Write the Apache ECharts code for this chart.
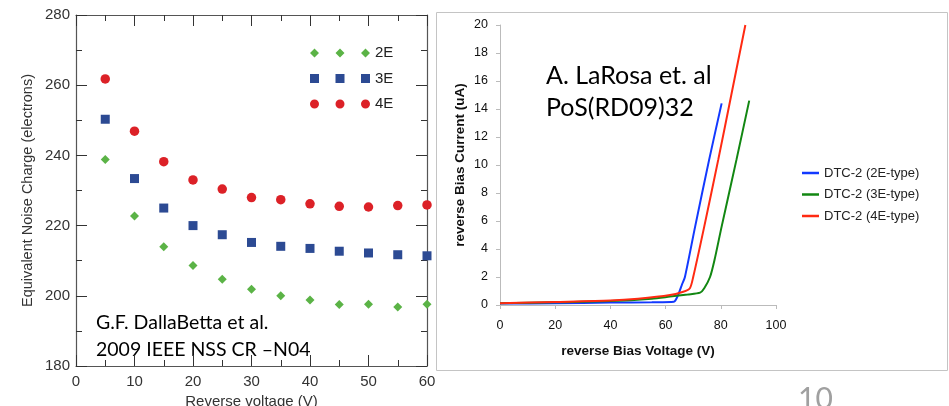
<!DOCTYPE html>
<html>
<head>
<meta charset="utf-8">
<script src="https://cdn.jsdelivr.net/npm/echarts@6/dist/echarts.min.js"></script>
<style>
    html, body { margin: 0; padding: 0; background: #fff; }
    #chart { width: 949px; height: 406px; }
</style>
</head>
<body>
<div id="chart"></div>
<script>
// left panel: ENC vs reverse voltage
const voltages = [5, 10, 15, 20, 25, 30, 35, 40, 45, 50, 55, 60];
const enc2E = [238.8, 222.7, 214.0, 208.6, 204.7, 201.9, 200.0, 198.8, 197.5, 197.6, 196.8, 197.6];
const enc3E = [250.3, 233.4, 225.0, 220.0, 217.4, 215.2, 214.1, 213.5, 212.7, 212.2, 211.7, 211.4];
const enc4E = [261.8, 246.9, 238.2, 233.0, 230.4, 228.0, 227.4, 226.2, 225.5, 225.3, 225.7, 225.9];

// right panel: IV curves [voltage, current uA]
const iv2E = [[0, 0.1], [20, 0.12], [40, 0.17], [55, 0.2], [63, 0.24], [64.5, 0.7], [66, 1.5], [67, 2.0],
    [70.7, 5.6], [75.8, 10.4], [80.3, 14.4]];
const iv3E = [[0, 0.12], [20, 0.19], [40, 0.28], [55, 0.45], [61.6, 0.6], [68, 0.75], [72.5, 0.88], [74, 1.2],
    [76.1, 2.0], [77.7, 3.2], [80.3, 5.6], [85.7, 10.4], [90.3, 14.6]];
const iv4E = [[0, 0.13], [20, 0.22], [40, 0.32], [50, 0.45], [61.6, 0.71], [66.4, 0.95], [68.8, 1.2], [70, 2.0],
    [74, 5.6], [79.1, 10.4], [83.8, 15], [88.9, 20]];

const leftNames = ['2E', '3E', '4E'];
const rightNames = ['DTC-2 (2E-type)', 'DTC-2 (3E-type)', 'DTC-2 (4E-type)'];

function pairs(xs, ys) {
    return xs.map((x, i) => [x, ys[i]]);
}

// three markers per legend row, like the original plot
const iconDiamonds = 'path://M4.5 0L9 4.5L4.5 9L0 4.5Z M30 0L34.5 4.5L30 9L25.5 4.5Z M55.5 0L60 4.5L55.5 9L51 4.5Z';
const iconSquares = 'path://M0 0H9V9H0Z M25.5 0H34.5V9H25.5Z M51 0H60V9H51Z';
const iconCircles = 'path://M0 4.5A4.5 4.5 0 1 1 9 4.5A4.5 4.5 0 1 1 0 4.5Z M25.5 4.5A4.5 4.5 0 1 1 34.5 4.5A4.5 4.5 0 1 1 25.5 4.5Z M51 4.5A4.5 4.5 0 1 1 60 4.5A4.5 4.5 0 1 1 51 4.5Z';

const frame = '#555';
const leftFont = 'Liberation Sans, Arial, sans-serif';
const noteFont = 'Lato, "Open Sans", sans-serif';

function frameAxis(extra) {
    return Object.assign({
        type: 'value',
        axisLine: {show: true, onZero: false, lineStyle: {color: frame, width: 1.2}},
        axisTick: {show: true, inside: true, length: 11, lineStyle: {color: '#333'}},
        minorTick: {show: true, splitNumber: 2, length: 6, lineStyle: {color: '#333'}},
        splitLine: {show: false},
        axisLabel: {show: false}
    }, extra);
}

const chart = echarts.init(document.getElementById('chart'));

chart.setOption({
    animation: false,
    grid: [
        {left: 76, top: 15, width: 351, height: 351, outerBoundsMode: 'none'},
        {left: 500, top: 25, width: 276, height: 280, outerBoundsMode: 'none'}
    ],
    xAxis: [
        frameAxis({
            gridIndex: 0, position: 'bottom', min: 0, max: 60, interval: 10,
            axisLabel: {show: true, margin: 8, color: '#333', fontSize: 15, fontFamily: leftFont},
            name: 'Reverse voltage (V)', nameLocation: 'middle', nameGap: 27,
            nameTextStyle: {color: '#333', fontSize: 15, fontFamily: leftFont}
        }),
        frameAxis({gridIndex: 0, position: 'top', min: 0, max: 60, interval: 10}),
        {
            type: 'value', gridIndex: 1, min: 0, max: 100, interval: 20,
            axisLine: {show: true, onZero: false, lineStyle: {color: '#bbb'}},
            axisTick: {show: true, length: 4, lineStyle: {color: '#bbb'}},
            splitLine: {show: false},
            axisLabel: {margin: 14, color: '#111', fontSize: 12.5, fontFamily: leftFont},
            name: 'reverse Bias Voltage (V)', nameLocation: 'middle', nameGap: 39,
            nameTextStyle: {color: '#111', fontSize: 13.5, fontWeight: 'bold', fontFamily: leftFont}
        }
    ],
    yAxis: [
        frameAxis({
            gridIndex: 0, position: 'left', min: 180, max: 280, interval: 20,
            axisLabel: {show: true, margin: 6, color: '#333', fontSize: 15, fontFamily: leftFont},
            name: 'Equivalent Noise Charge (electrons)', nameLocation: 'middle', nameGap: 41,
            nameTextStyle: {color: '#333', fontSize: 14.5, fontFamily: leftFont}
        }),
        frameAxis({gridIndex: 0, position: 'right', min: 180, max: 280, interval: 20}),
        {
            type: 'value', gridIndex: 1, min: 0, max: 20, interval: 2,
            axisLine: {show: true, onZero: false, lineStyle: {color: '#bbb'}},
            axisTick: {show: true, length: 4, lineStyle: {color: '#bbb'}},
            splitLine: {show: false},
            axisLabel: {margin: 12, color: '#111', fontSize: 12.5, fontFamily: leftFont},
            name: 'reverse Bias Current (uA)', nameLocation: 'middle', nameGap: 33,
            nameTextStyle: {color: '#111', fontSize: 13.5, fontWeight: 'bold', fontFamily: leftFont}
        }
    ],
    legend: [
        {
            orient: 'vertical', left: 310, top: 45.5, padding: 0,
            itemWidth: 60, itemHeight: 9, itemGap: 10.5,
            textStyle: {color: '#222', fontSize: 15, fontFamily: leftFont},
            data: [
                {name: leftNames[0], icon: iconDiamonds},
                {name: leftNames[1], icon: iconSquares},
                {name: leftNames[2], icon: iconCircles}
            ]
        },
        {
            orient: 'vertical', left: 802, top: 166.5, padding: 0,
            itemWidth: 17, itemHeight: 2.5, itemGap: 8.5, icon: 'rect',
            textStyle: {color: '#222', fontSize: 13, fontFamily: leftFont},
            data: rightNames
        }
    ],
    graphic: [
        {
            type: 'rect', shape: {x: 436.5, y: 12.5, width: 511, height: 358},
            style: {fill: 'none', stroke: '#c4c4c4', lineWidth: 1}, z: -1
        },
        {
            type: 'text', left: 96, top: 313,
            style: {text: 'G.F. DallaBetta et al.', fill: '#000', font: '19.5px ' + noteFont}
        },
        {
            type: 'text', left: 96, top: 340,
            style: {text: '2009 IEEE NSS CR \u2013N04', fill: '#000', font: '19.5px ' + noteFont}
        },
        {
            type: 'text', left: 546, top: 63,
            style: {text: 'A. LaRosa et. al', fill: '#000', font: '25px ' + noteFont}
        },
        {
            type: 'text', left: 546, top: 95,
            style: {text: 'PoS(RD09)32', fill: '#000', font: '25px ' + noteFont}
        },
        {
            type: 'text', left: 798, top: 384,
            style: {text: '10', fill: '#a0a0a0', font: '30px ' + noteFont}
        }
    ],
    series: [
        {
            name: leftNames[0], type: 'scatter', xAxisIndex: 0, yAxisIndex: 0,
            symbol: 'diamond', symbolSize: 9, itemStyle: {color: '#5bb346', opacity: 1},
            data: pairs(voltages, enc2E)
        },
        {
            name: leftNames[1], type: 'scatter', xAxisIndex: 0, yAxisIndex: 0,
            symbol: 'rect', symbolSize: 9, itemStyle: {color: '#2c4a93', opacity: 1},
            data: pairs(voltages, enc3E)
        },
        {
            name: leftNames[2], type: 'scatter', xAxisIndex: 0, yAxisIndex: 0,
            symbol: 'circle', symbolSize: 9.5, itemStyle: {color: '#dc2127', opacity: 1},
            data: pairs(voltages, enc4E)
        },
        {
            name: rightNames[0], type: 'line', xAxisIndex: 2, yAxisIndex: 2,
            symbol: 'none', smooth: 0.25, color: '#1239ff', lineStyle: {width: 2},
            data: iv2E
        },
        {
            name: rightNames[1], type: 'line', xAxisIndex: 2, yAxisIndex: 2,
            symbol: 'none', smooth: 0.25, color: '#128712', lineStyle: {width: 2},
            data: iv3E
        },
        {
            name: rightNames[2], type: 'line', xAxisIndex: 2, yAxisIndex: 2,
            symbol: 'none', smooth: 0.25, color: '#ff2a12', lineStyle: {width: 2},
            data: iv4E
        }
    ]
});
</script>
</body>
</html>
